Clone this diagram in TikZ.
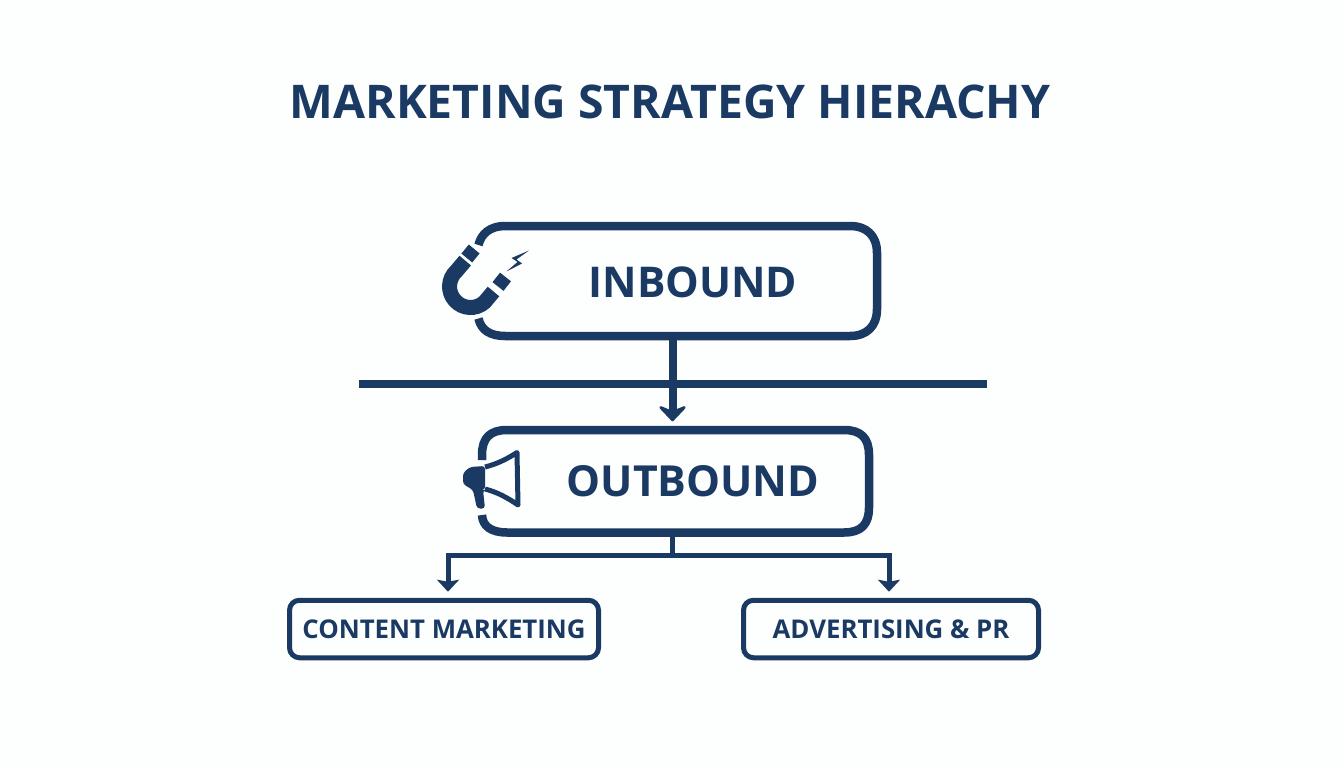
\documentclass[tikz,border=0pt]{standalone}
\usepackage{fontspec}
\setmainfont{Open Sans}[BoldFont={Open Sans Bold}]
\usetikzlibrary{arrows.meta,calc}
\definecolor{navy}{HTML}{1A3A63}
\definecolor{paper}{HTML}{FDFEFE}
\tikzset{
  x=1pt,y=-1pt,
  txt/.style={text=navy,font=\bfseries,inner sep=0pt,anchor=center},
  bigbox/.style={draw=navy,line width=8.5pt,line join=round},
  smallbox/.style={draw=navy,line width=5pt,rounded corners=10pt,text=navy,font=\bfseries\fontsize{25.8}{30}\selectfont,inner sep=0pt,minimum height=57.5pt},
  anchorbox/.style={inner sep=0pt,outer sep=0pt},
  bigarrow/.style={draw=navy,line width=8pt,-{Stealth[length=18pt,width=34pt,inset=7pt,round]}},
  thinline/.style={draw=navy,line width=5pt},
  thinarrow/.style={draw=navy,line width=5pt,-{Stealth[length=12pt,width=22pt,inset=2pt]}},
}
\begin{document}
\begin{tikzpicture}
\useasboundingbox[fill=paper] (0,0) rectangle (1344,768);
\node[txt,font=\bfseries\fontsize{46.4}{56}\selectfont] (title) at (670,102) {MARKETING STRATEGY HIERACHY};
% inbound box
\node[anchorbox,minimum width=400pt,minimum height=110pt] (inb) at (677,281) {};
\draw[bigbox] (478.5,245) .. controls (481,234) and (490,226) .. (505,226) -- (850,226)
  .. controls (867,226) and (877,236) .. (877,253) -- (877,309)
  .. controls (877,326) and (867,336) .. (850,336) -- (505,336)
  .. controls (490,336) and (481,330) .. (478.5,318.5);
\node[txt,font=\bfseries\fontsize{42.4}{52}\selectfont] (inbl) at (693,282) {INBOUND};
% magnet
\draw[navy,line width=15pt] (465.2,260.6) -- (456.5,270.9) arc[start angle=228,end angle=48,radius=21] -- (493.5,291.5);
\draw[navy,line width=14pt] (466.8,258) -- (474.2,249);
\draw[navy,line width=14pt] (498,286.5) -- (505.5,277);
\fill[navy] (529,250.5) -- (511.5,258) -- (517.5,262) -- (506.5,271.5) -- (522,263.5) -- (516.5,259.5) -- cycle;
% divider
\coordinate (dl) at (359,384);
\coordinate (dr) at (987,384);
\draw[navy,line width=8pt] (dl) -- (dr);
% outbound box
\node[anchorbox,minimum width=387pt,minimum height=102.5pt] (outb) at (675.5,481) {};
\draw[bigbox] (482,460) -- (482,455) .. controls (482,438) and (490,430) .. (507,430) -- (844,430)
  .. controls (861,430) and (869,438) .. (869,455) -- (869,507.5)
  .. controls (869,524.5) and (861,532.5) .. (844,532.5) -- (507,532.5)
  .. controls (491,532.5) and (482.5,526) .. (482,515);
\node[txt,font=\bfseries\fontsize{42.8}{52}\selectfont] (outbl) at (693,481) {OUTBOUND};
% megaphone
\draw[navy,line width=5pt,line join=round] (485,467) .. controls (497,464) and (507,459) .. (517,452.5) -- (518,505) .. controls (508,498) and (497,492) .. (485,489);
\fill[navy,rounded corners=3pt] (463,478) -- (463,473) -- (470,467) -- (485,466) -- (485,490) -- (483,490) -- (485,508.5) -- (477,508.5) -- (473,490) -- (463,484) -- cycle;
% connectors
\coordinate (s) at (672.5,340);
\draw[bigarrow] (s) -- ([yshift=8.5pt]s |- outb.north);
% lower
\node[smallbox,minimum width=309pt] (cm) at (444,629) {CONTENT MARKETING};
\node[smallbox,minimum width=295pt] (ad) at (891,629) {ADVERTISING \& PR};
\coordinate (j) at (672.5,555.5);
\draw[thinline] (672.5,536) -- (j);
\draw[thinarrow] (j) -| ([xshift=4pt,yshift=6pt]cm.north);
\draw[thinarrow] (j) -| ([xshift=-2pt,yshift=6pt]ad.north);
\end{tikzpicture}
\end{document}
